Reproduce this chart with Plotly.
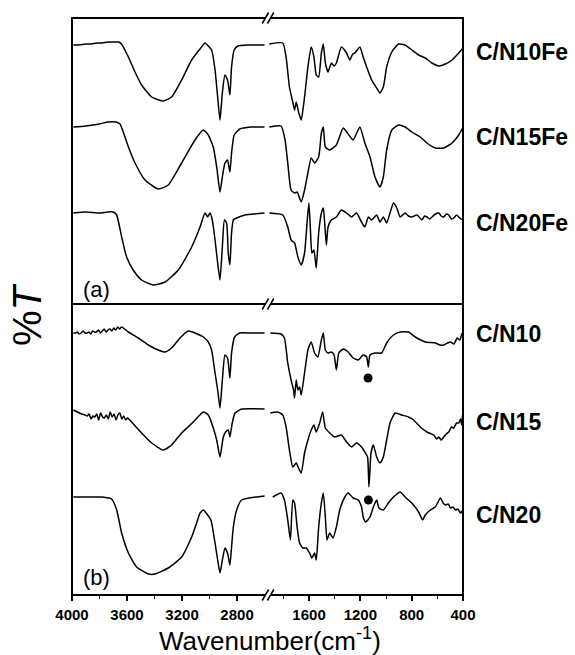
import plotly.graph_objects as go

# ---------------- data: FTIR spectra (wavenumber in cm-1, offset %T) ----------------
# Panel (a): Fe-containing samples
cn10fe_wn = [3990, 3950, 3900, 3860, 3820, 3780, 3740, 3700, 3660, 3640, 3590, 3542, 3494, 3421, 3336,
             3276, 3203, 3130, 3069, 3033, 3009, 2985, 2960, 2941, 2924, 2907, 2888, 2869, 2852, 2840,
             2821, 2794, 2719, 2600,
             1910, 1805, 1779, 1753, 1727, 1713, 1700, 1682, 1661, 1635, 1609, 1583, 1562, 1544, 1525,
             1504, 1489, 1473, 1452, 1426, 1405, 1387, 1348, 1308, 1282, 1260, 1243, 1204, 1178, 1151,
             1112, 1073, 1047, 1021, 995, 955, 903, 851, 799, 746, 694, 642, 589, 537, 485, 433, 399]
cn10fe_t = [259, 259, 260, 260, 261, 261, 262, 262, 262, 260, 247, 232, 219, 207, 203,
            207, 224, 244, 255, 261, 258, 254, 234, 207, 184, 211, 229, 224, 209, 237,
            254, 258, 259, 259,
            260, 261, 247, 217, 202, 194, 202, 192, 184, 207, 237, 257, 247, 229, 227,
            251, 260, 241, 232, 241, 238, 241, 257, 251, 244, 250, 251, 257, 247, 237,
            224, 216, 211, 217, 237, 252, 260, 259, 254, 249, 246, 241, 238, 240, 244, 251, 256]

cn15fe_wn = [3990, 3900, 3800, 3740, 3680, 3651, 3590, 3542, 3469, 3373, 3300, 3203, 3106, 3045, 3009,
             2973, 2948, 2924, 2907, 2888, 2869, 2852, 2840, 2821, 2780, 2700, 2600,
             1910, 1818, 1787, 1766, 1740, 1713, 1693, 1661, 1635, 1609, 1583, 1557, 1525, 1504, 1489,
             1473, 1439, 1387, 1334, 1290, 1256, 1204, 1165, 1125, 1086, 1047, 1021, 995, 955, 903,
             851, 799, 733, 681, 616, 550, 485, 433, 399]
cn15fe_t = [177, 178, 180, 182, 182, 180, 157, 141, 124, 115, 119, 141, 164, 174, 169,
            157, 137, 112, 127, 141, 144, 132, 151, 169, 175, 177, 177,
            177, 178, 164, 141, 114, 111, 112, 102, 114, 131, 146, 141, 147, 171, 177,
            157, 154, 159, 176, 169, 164, 177, 161, 147, 127, 117, 127, 154, 174, 179,
            177, 172, 167, 161, 156, 156, 161, 169, 177]

cn20fe_wn = [3990, 3900, 3800, 3740, 3700, 3675, 3639, 3603, 3555, 3494, 3409, 3324, 3227, 3130, 3069,
             3033, 3014, 2997, 2980, 2960, 2941, 2924, 2907, 2892, 2876, 2864, 2852, 2840, 2827, 2803,
             2743, 2600,
             1910, 1805, 1766, 1740, 1713, 1687, 1661, 1635, 1614, 1601, 1588, 1578, 1562, 1544, 1525,
             1504, 1489, 1478, 1465, 1452, 1426, 1387, 1348, 1308, 1269, 1230, 1191, 1165, 1138, 1112,
             1073, 1047, 1021, 995, 969, 942, 916, 890, 851, 825, 799, 759, 720, 700, 681, 660, 642,
             615, 589, 570, 550, 530, 511, 490, 472, 450, 433, 415, 399]
cn20fe_t = [91, 92, 91, 92, 92, 89, 67, 47, 34, 24, 19, 22, 34, 57, 77,
            91, 87, 91, 84, 64, 41, 24, 57, 84, 81, 51, 39, 71, 84, 86,
            89, 91,
            91, 89, 77, 64, 61, 47, 39, 51, 84, 101, 71, 51, 54, 36, 71,
            91, 96, 81, 59, 77, 84, 87, 94, 91, 87, 91, 82, 77, 87, 84,
            89, 82, 87, 81, 91, 101, 96, 87, 91, 88, 87, 89, 84, 88, 87, 85, 87,
            90, 91, 88, 87, 90, 89, 85, 86, 89, 87, 85, 84]

# Panel (b): Fe-free samples
cn10_wn = [3990, 3976, 3962, 3948, 3934, 3920, 3906, 3892, 3878, 3864, 3850, 3836, 3822, 3808, 3794,
           3780, 3766, 3752, 3738, 3724, 3710, 3696, 3682, 3668, 3654, 3640, 3590, 3518,
           3445, 3373, 3324, 3276, 3215, 3154, 3106, 3045, 3009, 2985, 2960, 2941, 2924, 2907, 2888,
           2869, 2852, 2840, 2818, 2782, 2700, 2600,
           1902, 1818, 1792, 1766, 1740, 1721, 1713, 1700, 1687, 1674, 1661, 1635, 1609, 1583, 1557,
           1531, 1504, 1489, 1473, 1452, 1426, 1405, 1387, 1368, 1334, 1295, 1256, 1217, 1178, 1151,
           1138, 1125, 1086, 1034, 995, 942, 890, 825, 772, 694, 616, 580, 550, 520, 498, 470, 446,
           425, 407]
cn10_t = [262, 262, 263, 261, 262, 264, 262, 262, 263, 261, 264, 263, 263, 265, 262,
          264, 266, 263, 265, 266, 264, 267, 265, 268, 266, 268, 263, 257,
          250, 245, 243, 247, 257, 264, 262, 258, 253, 245, 222, 205, 187, 215, 240,
          237, 217, 242, 258, 262, 262, 262,
          262, 261, 257, 232, 215, 205, 197, 215, 205, 208, 200, 222, 245, 253, 242,
          238, 255, 262, 245, 242, 243, 240, 225, 242, 246, 243, 237, 235, 240, 238,
          228, 240, 242, 242, 252, 260, 263, 263, 258, 253, 252, 250, 250, 252, 253, 251, 257,
          255, 262]

cn15_wn = [3990, 3960, 3930, 3905, 3890, 3876, 3862, 3848, 3834, 3820, 3806, 3792, 3778, 3764, 3750,
           3736, 3722, 3708, 3694, 3680, 3666, 3652, 3638, 3624, 3610, 3596, 3567,
           3494, 3421, 3336, 3276, 3203, 3118, 3045, 3009, 2980, 2948, 2924, 2900, 2883, 2864, 2852,
           2835, 2815, 2767, 2600,
           1902, 1844, 1805, 1779, 1753, 1727, 1700, 1682, 1661, 1635, 1609, 1583, 1562, 1544, 1517,
           1494, 1473, 1439, 1400, 1348, 1308, 1269, 1230, 1191, 1165, 1144, 1133, 1117, 1099, 1073,
           1047, 1021, 995, 969, 929, 877, 825, 785, 733, 681, 629, 605, 589, 570, 550, 530, 511,
           490, 472, 450, 433, 420, 410, 404, 399]
cn15_t = [185, 183, 181, 180, 179, 181, 176, 179, 178, 181, 175, 182, 178, 177, 180,
          176, 183, 178, 181, 175, 180, 182, 176, 179, 175, 177, 173,
          162, 152, 145, 150, 162, 173, 183, 180, 170, 155, 138, 158, 163, 165, 158,
          172, 182, 186, 186,
          182, 183, 180, 168, 145, 128, 132, 127, 122, 142, 155, 165, 170, 163, 172,
          183, 167, 162, 158, 160, 153, 148, 152, 148, 143, 138, 108, 142, 150, 138,
          132, 138, 155, 172, 182, 180, 178, 175, 168, 163, 160, 156, 158, 155, 158, 161, 163,
          168, 167, 172, 172, 176, 170, 180, 177]

cn20_wn = [3990, 3900, 3784, 3712, 3675, 3639, 3590, 3530, 3445, 3397, 3300, 3203, 3130, 3094, 3069,
           3045, 3014, 2990, 2960, 2941, 2924, 2907, 2888, 2869, 2852, 2840, 2827, 2803, 2767, 2600,
           1883, 1818, 1792, 1766, 1745, 1727, 1713, 1693, 1674, 1648, 1622, 1596, 1578, 1557, 1544,
           1525, 1504, 1489, 1473, 1460, 1439, 1413, 1387, 1361, 1321, 1295, 1256, 1217, 1191, 1178,
           1159, 1125, 1099, 1073, 1055, 1021, 982, 942, 890, 851, 799, 746, 715, 694, 655, 616, 576,
           555, 537, 515, 498, 478, 459, 440, 420, 408, 399]
cn20_t = [98, 98, 98, 96, 85, 62, 42, 28, 21, 21, 27, 38, 58, 72, 82,
          85, 80, 75, 52, 35, 22, 35, 47, 42, 30, 48, 68, 85, 95, 99,
          98, 102, 95, 75, 55, 95, 92, 68, 52, 47, 47, 42, 37, 42, 35,
          68, 92, 102, 78, 55, 62, 57, 68, 85, 98, 102, 97, 95, 88, 78,
          73, 78, 88, 95, 87, 85, 92, 98, 103, 98, 92, 83, 75, 80, 85, 88, 97,
          92, 90, 91, 87, 88, 85, 86, 82, 84, 77]

# marked bands (filled circles)
dot_wn = [1140, 1137]
dot_t = [217, 95]

# sample names and tick values
names_a = ["C/N10Fe", "C/N15Fe", "C/N20Fe"]
names_b = ["C/N10", "C/N15", "C/N20"]
left_ticks = [4000, 3600, 3200, 2800]
left_minor = [3800, 3400, 3000]
right_ticks = [1600, 1200, 800, 400]
right_minor = [1800, 1400, 1000, 600]

# ---------------- geometry (pixels) ----------------
W, H = 575, 655
L, R, T, B = 72, 463, 18, 595
MID = 304


def px(x):
    return (x - L) / (R - L)


def py(y):
    return (B - y) / (B - T)


fig = go.Figure()

line_style = dict(color="black", width=1.5, shape="spline", smoothing=0.5)


def add_spectrum(wn, t, xl, xr, ya):
    left = [(w, v) for w, v in zip(wn, t) if w > 2000]
    right = [(w, v) for w, v in zip(wn, t) if w <= 2000]
    fig.add_trace(go.Scatter(x=[p[0] for p in left], y=[p[1] for p in left], mode="lines",
                             line=line_style, xaxis=xl, yaxis=ya, showlegend=False, hoverinfo="skip"))
    fig.add_trace(go.Scatter(x=[p[0] for p in right], y=[p[1] for p in right], mode="lines",
                             line=line_style, xaxis=xr, yaxis=ya, showlegend=False, hoverinfo="skip"))


for wn, t in [(cn10fe_wn, cn10fe_t), (cn15fe_wn, cn15fe_t), (cn20fe_wn, cn20fe_t)]:
    add_spectrum(wn, t, "x3", "x4", "y2")
for wn, t in [(cn10_wn, cn10_t), (cn15_wn, cn15_t), (cn20_wn, cn20_t)]:
    add_spectrum(wn, t, "x", "x2", "y")

fig.add_trace(go.Scatter(x=dot_wn, y=dot_t, mode="markers", marker=dict(color="black", size=9),
                         xaxis="x2", yaxis="y", showlegend=False, hoverinfo="skip"))

tick_font = dict(family="Liberation Sans, Arial", size=15, color="black", weight="bold")
split = px(268)
ydiv = py(MID)

common_x = dict(showgrid=False, zeroline=False, showline=False, ticks="outside", ticklen=5,
                tickwidth=1.5, tickcolor="black", tickfont=tick_font, fixedrange=True,
                ticklabelstandoff=1)

fig.update_layout(
    width=W, height=H,
    margin=dict(l=L, r=W - R, t=T, b=H - B, pad=0),
    paper_bgcolor="white", plot_bgcolor="white",
    xaxis=dict(domain=[0, split], range=[4000, 2575], anchor="y", tickmode="array",
               tickvals=left_ticks, minor=dict(tickmode="array", tickvals=left_minor, ticks="outside",
                                               ticklen=3, tickwidth=1.2, tickcolor="black"), **common_x),
    xaxis2=dict(domain=[split, 1], range=[1920, 400], anchor="y", tickmode="array",
                tickvals=right_ticks, minor=dict(tickmode="array", tickvals=right_minor, ticks="outside",
                                                 ticklen=3, tickwidth=1.2, tickcolor="black"), **common_x),
    xaxis3=dict(domain=[0, split], range=[4000, 2575], anchor="y2", visible=False),
    xaxis4=dict(domain=[split, 1], range=[1920, 400], anchor="y2", visible=False),
    yaxis=dict(domain=[0, ydiv], range=[0, B - MID], visible=False, fixedrange=True),
    yaxis2=dict(domain=[ydiv, 1], range=[0, MID - T], visible=False, fixedrange=True),
)

shapes = []
frame = dict(color="black", width=2)
shapes.append(dict(type="rect", xref="paper", yref="paper", x0=0, x1=1, y0=ydiv, y1=1, line=frame))
shapes.append(dict(type="rect", xref="paper", yref="paper", x0=0, x1=1, y0=0, y1=ydiv, line=frame))


# axis-break marks "//"
def break_mark(cx, cy):
    d = 2.6
    hx, hy = 3.2, 5.5
    path = (f"M {px(cx - d - hx)},{py(cy + hy)} L {px(cx - d + hx)},{py(cy - hy)} "
            f"L {px(cx + d + hx)},{py(cy - hy)} L {px(cx + d - hx)},{py(cy + hy)} Z")
    shapes.append(dict(type="path", xref="paper", yref="paper", path=path,
                       fillcolor="white", line=dict(width=0)))
    for s in (-d, d):
        shapes.append(dict(type="line", xref="paper", yref="paper",
                           x0=px(cx + s - hx), y0=py(cy + hy), x1=px(cx + s + hx), y1=py(cy - hy),
                           line=dict(color="black", width=1.5)))


for yy in (T, MID, B):
    break_mark(268, yy)

fig.update_layout(shapes=shapes)

label_font = dict(family="Liberation Sans, Arial", size=23, color="black", weight="bold")
ann = []
for name, yy in zip(names_a, [52, 137, 223]):
    ann.append(dict(text=name, x=px(474), y=py(yy), xref="paper", yref="paper", xanchor="left",
                    yanchor="middle", showarrow=False, font=label_font))
for name, yy in zip(names_b, [334, 422, 515]):
    ann.append(dict(text=name, x=px(474), y=py(yy), xref="paper", yref="paper", xanchor="left",
                    yanchor="middle", showarrow=False, font=label_font))

panel_font = dict(family="Liberation Sans, Arial", size=22, color="black")
ann.append(dict(text="(a)", x=px(81), y=py(289), xref="paper", yref="paper", xanchor="left",
                yanchor="middle", showarrow=False, font=panel_font))
ann.append(dict(text="(b)", x=px(81), y=py(577), xref="paper", yref="paper", xanchor="left",
                yanchor="middle", showarrow=False, font=panel_font))

ann.append(dict(text="%<i>T</i>", x=px(27), y=py(315), xref="paper", yref="paper", xanchor="center",
                yanchor="middle", textangle=-90, showarrow=False,
                font=dict(family="Liberation Sans, Arial", size=40, color="black")))
ann.append(dict(text="Wavenumber(cm<sup>-1</sup>)", x=px(270), y=py(639), xref="paper", yref="paper",
                xanchor="center", yanchor="middle", showarrow=False,
                font=dict(family="Liberation Sans, Arial", size=26, color="black")))

fig.update_layout(annotations=ann)

fig.write_html("out.html", config={"displayModeBar": False})
